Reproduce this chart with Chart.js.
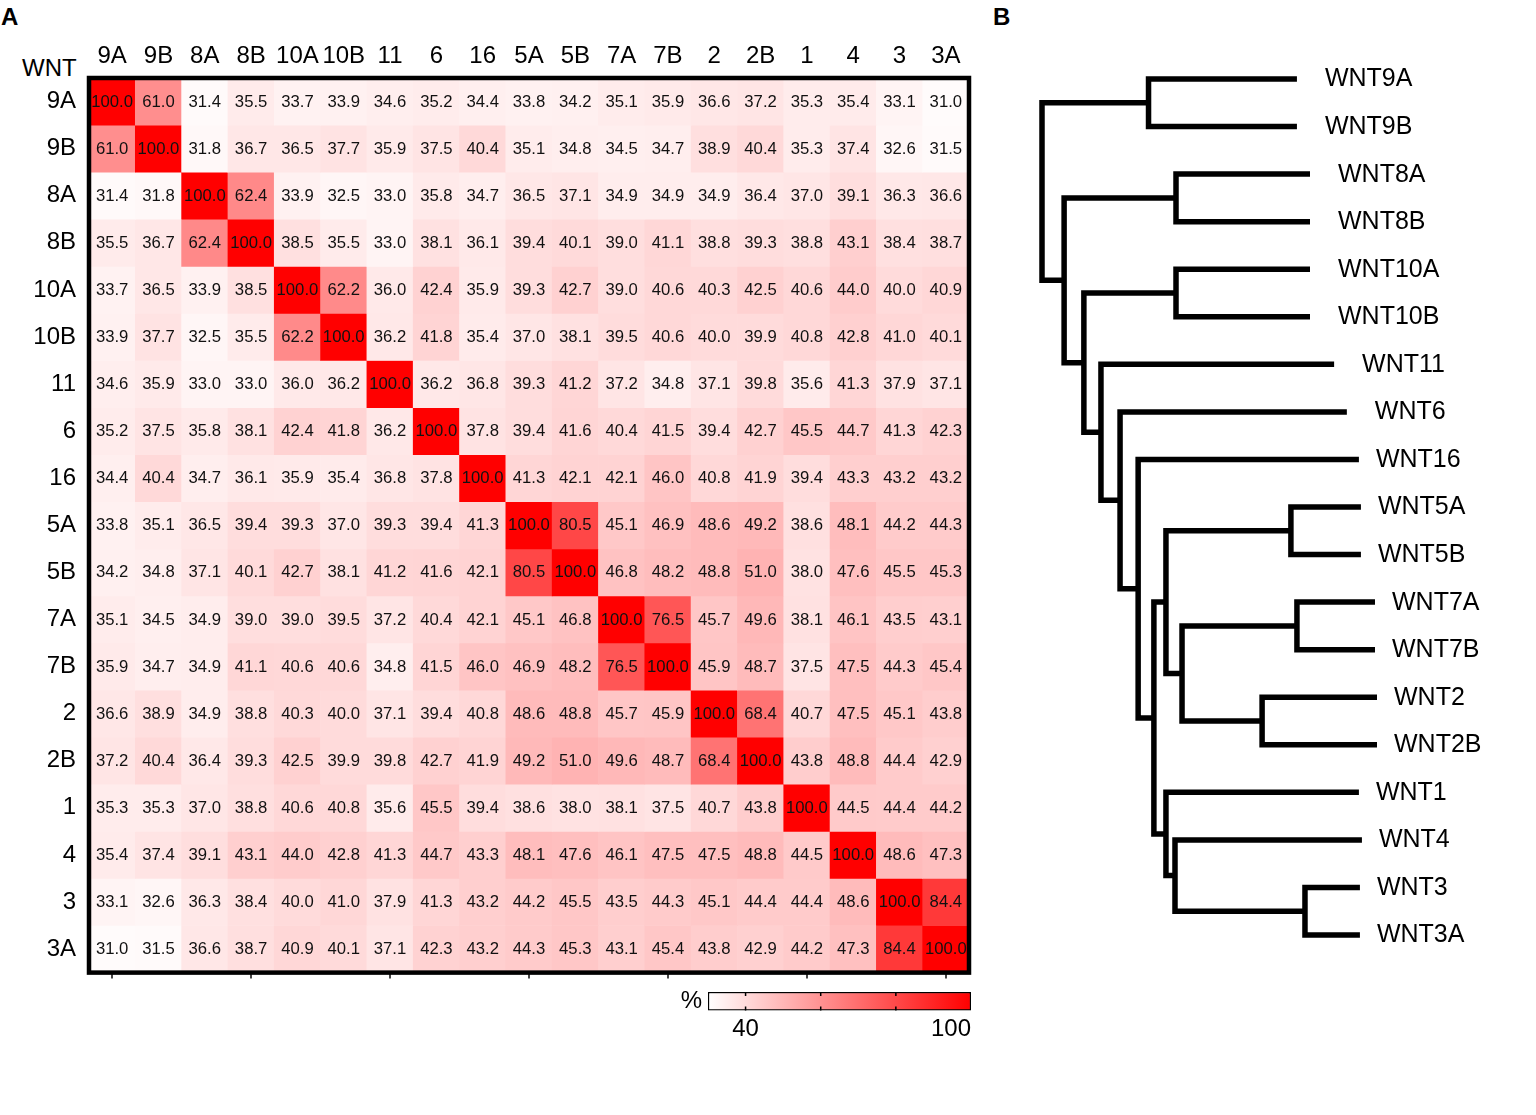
<!DOCTYPE html>
<html>
<head>
<meta charset="utf-8">
<script src="https://cdn.jsdelivr.net/npm/chart.js@4.4.1/dist/chart.umd.min.js"></script>
<style>
  html, body { margin: 0; padding: 0; background: #fff; }
  body { width: 1536px; height: 1115px; position: relative; overflow: hidden;
         font-family: "Liberation Sans", Arial, sans-serif; }
  .box { position: absolute; }
  .lbl { position: absolute; line-height: 1; color: #000; white-space: nowrap; }
</style>
</head>
<body>
<div class="lbl" style="left:1px;top:5px;font-size:24px;font-weight:bold">A</div>
<div class="lbl" style="left:993px;top:5px;font-size:24px;font-weight:bold">B</div>
<div class="lbl" style="left:22px;top:56px;font-size:24px">WNT</div>

<div class="box" style="left:0;top:0;width:1000px;height:1000px"><canvas id="heat"></canvas></div>
<div class="box" style="left:640px;top:960px;width:360px;height:90px"><canvas id="cbar"></canvas></div>
<div class="box" style="left:1000px;top:0;width:536px;height:1000px"><canvas id="tree"></canvas></div>

<script>
// ---------------- DATA ----------------
const cols = ['9A','9B','8A','8B','10A','10B','11','6','16','5A','5B','7A','7B','2','2B','1','4','3','3A'];
const rowLabels = ['9A','9B','8A','8B','10A','10B','11','6','16','5A','5B','7A','7B','2','2B','1','4','3','3A'];

const r9A  = [100.0,61.0,31.4,35.5,33.7,33.9,34.6,35.2,34.4,33.8,34.2,35.1,35.9,36.6,37.2,35.3,35.4,33.1,31.0];
const r9B  = [61.0,100.0,31.8,36.7,36.5,37.7,35.9,37.5,40.4,35.1,34.8,34.5,34.7,38.9,40.4,35.3,37.4,32.6,31.5];
const r8A  = [31.4,31.8,100.0,62.4,33.9,32.5,33.0,35.8,34.7,36.5,37.1,34.9,34.9,34.9,36.4,37.0,39.1,36.3,36.6];
const r8B  = [35.5,36.7,62.4,100.0,38.5,35.5,33.0,38.1,36.1,39.4,40.1,39.0,41.1,38.8,39.3,38.8,43.1,38.4,38.7];
const r10A = [33.7,36.5,33.9,38.5,100.0,62.2,36.0,42.4,35.9,39.3,42.7,39.0,40.6,40.3,42.5,40.6,44.0,40.0,40.9];
const r10B = [33.9,37.7,32.5,35.5,62.2,100.0,36.2,41.8,35.4,37.0,38.1,39.5,40.6,40.0,39.9,40.8,42.8,41.0,40.1];
const r11  = [34.6,35.9,33.0,33.0,36.0,36.2,100.0,36.2,36.8,39.3,41.2,37.2,34.8,37.1,39.8,35.6,41.3,37.9,37.1];
const r6   = [35.2,37.5,35.8,38.1,42.4,41.8,36.2,100.0,37.8,39.4,41.6,40.4,41.5,39.4,42.7,45.5,44.7,41.3,42.3];
const r16  = [34.4,40.4,34.7,36.1,35.9,35.4,36.8,37.8,100.0,41.3,42.1,42.1,46.0,40.8,41.9,39.4,43.3,43.2,43.2];
const r5A  = [33.8,35.1,36.5,39.4,39.3,37.0,39.3,39.4,41.3,100.0,80.5,45.1,46.9,48.6,49.2,38.6,48.1,44.2,44.3];
const r5B  = [34.2,34.8,37.1,40.1,42.7,38.1,41.2,41.6,42.1,80.5,100.0,46.8,48.2,48.8,51.0,38.0,47.6,45.5,45.3];
const r7A  = [35.1,34.5,34.9,39.0,39.0,39.5,37.2,40.4,42.1,45.1,46.8,100.0,76.5,45.7,49.6,38.1,46.1,43.5,43.1];
const r7B  = [35.9,34.7,34.9,41.1,40.6,40.6,34.8,41.5,46.0,46.9,48.2,76.5,100.0,45.9,48.7,37.5,47.5,44.3,45.4];
const r2   = [36.6,38.9,34.9,38.8,40.3,40.0,37.1,39.4,40.8,48.6,48.8,45.7,45.9,100.0,68.4,40.7,47.5,45.1,43.8];
const r2B  = [37.2,40.4,36.4,39.3,42.5,39.9,39.8,42.7,41.9,49.2,51.0,49.6,48.7,68.4,100.0,43.8,48.8,44.4,42.9];
const r1   = [35.3,35.3,37.0,38.8,40.6,40.8,35.6,45.5,39.4,38.6,38.0,38.1,37.5,40.7,43.8,100.0,44.5,44.4,44.2];
const r4   = [35.4,37.4,39.1,43.1,44.0,42.8,41.3,44.7,43.3,48.1,47.6,46.1,47.5,47.5,48.8,44.5,100.0,48.6,47.3];
const r3   = [33.1,32.6,36.3,38.4,40.0,41.0,37.9,41.3,43.2,44.2,45.5,43.5,44.3,45.1,44.4,44.4,48.6,100.0,84.4];
const r3A  = [31.0,31.5,36.6,38.7,40.9,40.1,37.1,42.3,43.2,44.3,45.3,43.1,45.4,43.8,42.9,44.2,47.3,84.4,100.0];
const matrix = [r9A,r9B,r8A,r8B,r10A,r10B,r11,r6,r16,r5A,r5B,r7A,r7B,r2,r2B,r1,r4,r3,r3A];

// colour scale
const colorMin = 30;
const colorMax = 100;
const cbarTicks = [30, 40, 60, 80, 100];
const cbarTickLabels = ['', '40', '', '', '100'];
const cbarTitle = ['%'];

// dendrogram
const leafNames = ['WNT9A','WNT9B','WNT8A','WNT8B','WNT10A','WNT10B','WNT11','WNT6','WNT16','WNT5A','WNT5B','WNT7A','WNT7B','WNT2','WNT2B','WNT1','WNT4','WNT3','WNT3A'];
const leafTips  = [76.1,76.1,80.0,80.0,80.0,80.0,87.2,91.0,94.6,95.2,95.2,99.4,99.4,100.0,100.0,94.6,95.5,94.9,94.9];
const treeNodes    = ['root','n9','nB','n8','nC','n10','nD','nE','nF','nG','nH','n5','nI','n7','n2','nJ','nK','n3'];
const treeHeights  = [0, 31.8, 6.6, 40.0, 12.5, 40.0, 17.6, 23.3, 28.7, 33.4, 37.0, 74.3, 41.8, 76.1, 65.7, 37.0, 39.7, 78.5];
const treeChildren = [['n9','nB'],['WNT9A','WNT9B'],['n8','nC'],['WNT8A','WNT8B'],['n10','nD'],['WNT10A','WNT10B'],
                      ['WNT11','nE'],['WNT6','nF'],['WNT16','nG'],['nH','nJ'],['n5','nI'],['WNT5A','WNT5B'],
                      ['n7','n2'],['WNT7A','WNT7B'],['WNT2','WNT2B'],['WNT1','nK'],['WNT4','n3'],['WNT3','WNT3A']];

// ---------------- STYLE / HELPERS ----------------
const FAMILY = '"Liberation Sans", Arial, sans-serif';
function cellColor(v) {
  let t = (v - colorMin) / (colorMax - colorMin);
  t = Math.max(0, Math.min(1, t));
  const g = Math.round(255 * (1 - t));
  return `rgb(255,${g},${g})`;
}

// ---------------- HEATMAP ----------------
const heatText = {
  id: 'heatText',
  afterDatasetsDraw(chart) {
    const ctx = chart.ctx;
    ctx.save();
    ctx.font = '16.7px ' + FAMILY;
    ctx.fillStyle = '#111';
    ctx.textAlign = 'center';
    ctx.textBaseline = 'middle';
    chart.data.datasets.forEach((ds, i) => {
      chart.getDatasetMeta(i).data.forEach((el, j) => {
        ctx.fillText(matrix[i][j].toFixed(1), el.x, (el.y + el.base) / 2 + 0.5);
      });
    });
    ctx.restore();
  },
  afterDraw(chart) {
    const a = chart.chartArea, ctx = chart.ctx;
    ctx.save();
    ctx.strokeStyle = '#000';
    ctx.lineWidth = 4.5;
    ctx.strokeRect(a.left, a.top, a.right - a.left, a.bottom - a.top);
    ctx.restore();
  }
};

new Chart(document.getElementById('heat'), {
  type: 'bar',
  data: {
    labels: cols,
    datasets: matrix.map((row, i) => ({
      label: rowLabels[i],
      data: row.map(() => [i, i + 1]),
      backgroundColor: row.map(cellColor),
      borderWidth: 0,
      grouped: false,
      barPercentage: 1,
      categoryPercentage: 1
    }))
  },
  options: {
    responsive: true,
    maintainAspectRatio: false,
    animation: false,
    layout: { padding: { left: 0, top: 0, right: 31, bottom: 0 } },
    plugins: { legend: { display: false }, tooltip: { enabled: false } },
    scales: {
      x: {
        type: 'category', position: 'top', offset: true,
        grid: { display: false, drawTicks: false }, border: { display: false },
        ticks: { font: { size: 24, family: FAMILY }, color: '#000', padding: 7, maxRotation: 0, autoSkip: false },
        afterFit: s => { s.height = 78; }
      },
      x2: {
        type: 'category', position: 'bottom', offset: true,
        grid: { offset: false, drawOnChartArea: false, drawTicks: true, tickLength: 6, lineWidth: 2,
                color: c => (c.index % 3 === 0 ? '#444' : 'rgba(0,0,0,0)') },
        border: { display: false },
        ticks: { display: false, autoSkip: false },
        afterFit: s => { s.height = 24; }
      },
      y: {
        type: 'linear', min: 0, max: rowLabels.length, reverse: true,
        afterBuildTicks: s => { s.ticks = rowLabels.map((_, i) => ({ value: i + 0.5 })); },
        ticks: { callback: (v, i) => rowLabels[i], font: { size: 24, family: FAMILY }, color: '#000', padding: 13, autoSkip: false },
        grid: { display: false, drawTicks: false }, border: { display: false },
        afterFit: s => { s.width = 89; }
      }
    }
  },
  plugins: [heatText]
});

// ---------------- COLOUR BAR ----------------
const cbarMarks = {
  id: 'cbarMarks',
  afterDatasetsDraw(chart) {
    const a = chart.chartArea, ctx = chart.ctx, x = chart.scales.x;
    ctx.save();
    ctx.strokeStyle = '#000';
    ctx.lineWidth = 1.5;
    cbarTicks.forEach(v => {
      if (v <= colorMin || v >= colorMax) return;
      const px = x.getPixelForValue(v);
      ctx.beginPath();
      ctx.moveTo(px, a.top); ctx.lineTo(px, a.top + 4);
      ctx.moveTo(px, a.bottom); ctx.lineTo(px, a.bottom - 4);
      ctx.stroke();
    });
    ctx.restore();
  }
};

new Chart(document.getElementById('cbar'), {
  type: 'bar',
  data: {
    labels: cbarTitle,
    datasets: [{
      data: [[colorMin, colorMax]],
      backgroundColor: (c) => {
        const chart = c.chart;
        if (!chart.chartArea) return cellColor(colorMax);
        const x = chart.scales.x;
        const g = chart.ctx.createLinearGradient(x.getPixelForValue(colorMin), 0, x.getPixelForValue(colorMax), 0);
        g.addColorStop(0, cellColor(colorMin));
        g.addColorStop(1, cellColor(colorMax));
        return g;
      },
      borderColor: '#000',
      borderWidth: 1.5,
      borderSkipped: false,
      barPercentage: 1,
      categoryPercentage: 1
    }]
  },
  options: {
    indexAxis: 'y',
    responsive: true,
    maintainAspectRatio: false,
    animation: false,
    layout: { padding: { left: 0, top: 32, right: 29, bottom: 0 } },
    plugins: { legend: { display: false }, tooltip: { enabled: false } },
    scales: {
      x: {
        type: 'linear', min: colorMin, max: colorMax,
        afterBuildTicks: s => { s.ticks = cbarTicks.map(v => ({ value: v })); },
        ticks: { align: 'inner', padding: 4, font: { size: 24, family: FAMILY }, color: '#000',
                 callback: (v, i) => cbarTickLabels[i], autoSkip: false, maxRotation: 0 },
        grid: { display: false, drawTicks: false }, border: { display: false },
        afterFit: s => { s.height = 39.5; }
      },
      y: {
        type: 'category',
        ticks: { font: { size: 24, family: FAMILY }, color: '#000', padding: 6 },
        grid: { display: false, drawTicks: false }, border: { display: false },
        afterFit: s => { s.width = 68; }
      }
    }
  },
  plugins: [cbarMarks]
});

// ---------------- DENDROGRAM ----------------
const leafIndex = {};
leafNames.forEach((n, i) => { leafIndex[n] = i; });
const nodeIndex = {};
treeNodes.forEach((n, i) => { nodeIndex[n] = i; });
function posY(name) {
  if (name in leafIndex) return leafIndex[name];
  const ch = treeChildren[nodeIndex[name]];
  return (posY(ch[0]) + posY(ch[1])) / 2;
}
function posX(name) {
  if (name in leafIndex) return leafTips[leafIndex[name]];
  return treeHeights[nodeIndex[name]];
}
const treeDatasets = treeNodes.map((n, i) => {
  const [a, b] = treeChildren[i];
  const h = treeHeights[i];
  return {
    data: [
      { x: posX(a), y: posY(a) },
      { x: h, y: posY(a) },
      { x: h, y: posY(b) },
      { x: posX(b), y: posY(b) }
    ],
    showLine: true,
    borderColor: '#000',
    borderWidth: 5.5,
    borderCapStyle: 'butt',
    borderJoinStyle: 'miter',
    pointRadius: 0,
    tension: 0,
    clip: false
  };
});

const leafText = {
  id: 'leafText',
  afterDatasetsDraw(chart) {
    const ctx = chart.ctx, x = chart.scales.x, y = chart.scales.y;
    ctx.save();
    ctx.font = '25px ' + FAMILY;
    ctx.fillStyle = '#000';
    ctx.textAlign = 'left';
    ctx.textBaseline = 'middle';
    leafNames.forEach((n, i) => {
      const gap = leafTips[i] < 92 ? 28 : 17;
      ctx.fillText(n, x.getPixelForValue(leafTips[i]) + gap, y.getPixelForValue(i) + 0.5);
    });
    ctx.restore();
  }
};

new Chart(document.getElementById('tree'), {
  type: 'scatter',
  data: { datasets: treeDatasets },
  options: {
    responsive: true,
    maintainAspectRatio: false,
    animation: false,
    layout: { padding: { left: 42, right: 159, top: 79, bottom: 65 } },
    plugins: { legend: { display: false }, tooltip: { enabled: false } },
    scales: {
      x: { type: 'linear', min: 0, max: 100, display: false },
      y: { type: 'linear', min: 0, max: leafNames.length - 1, reverse: true, display: false }
    }
  },
  plugins: [leafText]
});
</script>
</body>
</html>
